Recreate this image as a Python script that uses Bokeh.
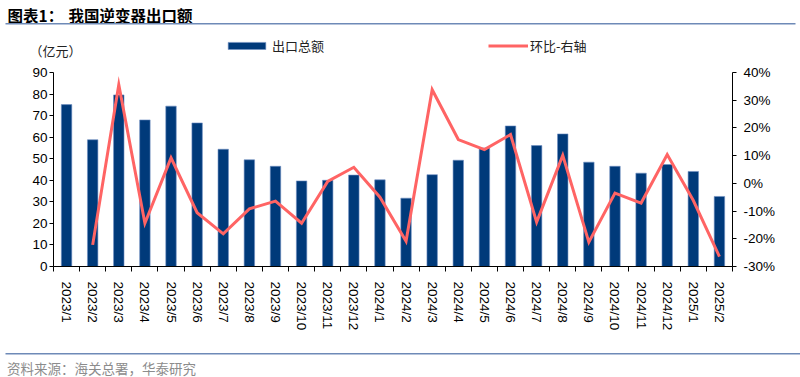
from bokeh.plotting import figure
from bokeh.models import (Range1d, LinearAxis, FixedTicker,
                          NumeralTickFormatter, Legend, LegendItem, Label, BoxAnnotation,
                          ColumnDataSource)
from bokeh.embed import file_html
from bokeh.resources import INLINE

months = ["2023/1", "2023/2", "2023/3", "2023/4", "2023/5", "2023/6", "2023/7", "2023/8",
          "2023/9", "2023/10", "2023/11", "2023/12", "2024/1", "2024/2", "2024/3", "2024/4",
          "2024/5", "2024/6", "2024/7", "2024/8", "2024/9", "2024/10", "2024/11", "2024/12",
          "2025/1", "2025/2"]
exports = [75.1, 58.8, 79.6, 68.0, 74.4, 66.6, 54.4, 49.5, 46.5, 39.7, 40.0, 42.4, 40.2,
           31.7, 42.6, 49.3, 55.0, 65.2, 56.1, 61.5, 48.4, 46.5, 43.3, 47.3, 44.1, 32.5]
# month-on-month growth (%), from 2023/2
mom = [-22.2, 35.6, -14.4, 9.2, -10.6, -18.2, -9.2, -6.4, -14.4, 0.7, 5.8, -5.0,
       -20.9, 33.8, 15.8, 12.2, 17.6, -14.0, 10.1, -21.2, -3.5, -7.1, 10.4, -6.2, -26.4]
left_ticks = [0, 10, 20, 30, 40, 50, 60, 70, 80, 90]
right_ticks = [-0.3, -0.2, -0.1, 0.0, 0.1, 0.2, 0.3, 0.4]
left_max = 90
right_min, right_max = -0.3, 0.4

BAR = "#003A7A"
LINE = "#FF6464"
RULE = "#6E8AB7"
NUM_FONT = "Liberation Sans"
CJK = "Noto Sans CJK SC"

# canvas size and where the plotting area sits inside it (pixels)
W, H = 800, 377
FL, FR, FT, FB = 53, 732, 72, 266

n = len(months)
pos = list(range(1, n + 1))
x0, x1 = 0.5, n + 0.5
px_x = (FR - FL) / (x1 - x0)
px_y = (FB - FT) / left_max
px_r = (FB - FT) / (right_max - right_min)
x_range = Range1d(x0 - FL / px_x, x1 + (W - FR) / px_x)
y_range = Range1d(0 - (H - FB) / px_y, left_max + FT / px_y)
r_range = Range1d(right_min - (H - FB) / px_r, right_max + FT / px_r)

bar_src = ColumnDataSource(dict(x=pos, top=exports))
line_src = ColumnDataSource(dict(x=pos[1:], y=[v / 100 for v in mom]))

p = figure(width=W, height=H, output_backend="svg", toolbar_location=None,
           x_range=x_range, y_range=y_range, min_border=0)
p.outline_line_color = None
p.xgrid.visible = False
p.ygrid.visible = False
p.background_fill_color = "white"
p.border_fill_color = "white"
p.extra_y_ranges = {"pct": r_range}

bars = p.vbar(x="x", top="top", width=0.4, source=bar_src, fill_color=BAR,
              line_color="#6F8FC2", line_width=0.6)
line = p.line(x="x", y="y", source=line_src, y_range_name="pct", line_color=LINE,
              line_width=3, line_join="miter")

# x axis
xa = p.xaxis[0]
xa.fixed_location = 0
xa.bounds = (x0, x1)
xa.ticker = FixedTicker(ticks=pos, minor_ticks=[i + 0.5 for i in range(0, n + 1)])
xa.major_label_overrides = {i: m for i, m in zip(pos, months)}
xa.major_label_orientation = "vertical"
xa.major_tick_out = 0
xa.major_tick_in = 0
xa.minor_tick_out = 5
xa.minor_tick_in = 0
xa.minor_tick_line_color = "black"
xa.major_label_standoff = 10
xa.major_label_text_font = NUM_FONT
xa.major_label_text_font_size = "13.5px"
xa.major_label_text_color = "black"
xa.axis_line_color = "black"

# left axis
ya = p.yaxis[0]
ya.fixed_location = x0
ya.bounds = (0, left_max)
ya.ticker = FixedTicker(ticks=left_ticks)
ya.major_tick_out = 4
ya.major_tick_in = 0
ya.minor_tick_out = 0
ya.minor_tick_in = 0
ya.major_label_standoff = 2
ya.major_label_text_font = NUM_FONT
ya.major_label_text_font_size = "13.5px"
ya.major_label_text_color = "black"
ya.axis_line_color = "black"

# right axis
ra = LinearAxis(y_range_name="pct", ticker=FixedTicker(ticks=right_ticks),
                formatter=NumeralTickFormatter(format="0%"))
ra.fixed_location = x1
ra.bounds = (right_min - 1e-9, right_max + 1e-9)
ra.major_tick_out = 4
ra.major_tick_in = 0
ra.minor_tick_out = 0
ra.minor_tick_in = 0
ra.major_label_standoff = 7
ra.major_label_text_font = NUM_FONT
ra.major_label_text_font_size = "13.5px"
ra.major_label_text_color = "black"
ra.axis_line_color = "black"
p.add_layout(ra, "right")

# legends
def mk_legend(label, r, loc, gw):
    lg = Legend(items=[LegendItem(label=label, renderers=[r])], location=loc,
                orientation="horizontal", glyph_width=gw, glyph_height=9, label_height=9,
                label_standoff=2, padding=0, margin=0, spacing=0,
                border_line_alpha=0, background_fill_alpha=0,
                label_text_font=CJK, label_text_font_size="13px", label_text_color="#222222")
    p.add_layout(lg, "center")

mk_legend("出口总额", bars, (223, H - 55), 47)
mk_legend("环比-右轴", line, (488, H - 55), 40)

# texts
def txt(x, y, s, size, color="black", bold=False):
    p.add_layout(Label(x=x, y=y, x_units="canvas", y_units="canvas", text=s,
                       text_font=CJK, text_font_style="bold" if bold else "normal",
                       text_font_size=size, text_baseline="middle", text_color=color))

txt(7, 14, "图表1：", "15.5px", bold=True)
txt(68, 14, "我国逆变器出口额", "15.5px", bold=True)
txt(29, 50, "（亿元）", "13px", color="#222222")
txt(6.5, 367, "资料来源：海关总署，华泰研究", "13.5px", color="#8C8C8C")

# rules
for t, l, r in ((22.5, 5, 795), (352.5, 5, 800)):
    p.add_layout(BoxAnnotation(left=l, right=r, top=t, bottom=t + 1.5, left_units="canvas",
                               right_units="canvas", top_units="canvas", bottom_units="canvas",
                               fill_color=RULE, fill_alpha=1, line_alpha=0))

open("out.html", "w").write(file_html(p, INLINE))
